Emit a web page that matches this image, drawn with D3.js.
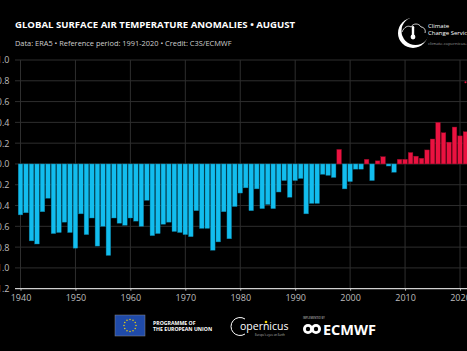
<!DOCTYPE html>
<html>
<head>
<meta charset="utf-8">
<script src="https://cdn.jsdelivr.net/npm/d3@7"></script>
<style>
  html, body { margin: 0; padding: 0; background: #000; }
  svg { display: block; }
</style>
</head>
<body>
<div id="svgOutput"></div>
<script>
// Data

const years = d3.range(1940, 2022);
const anomalies = [
  -0.49, -0.47, -0.74, -0.77, -0.46, -0.33, -0.67, -0.66, -0.56, -0.66,
  -0.81, -0.48, -0.68, -0.52, -0.79, -0.60, -0.88, -0.52, -0.57, -0.59,
  -0.52, -0.55, -0.60, -0.35, -0.69, -0.67, -0.58, -0.56, -0.65, -0.66,
  -0.68, -0.70, -0.45, -0.62, -0.62, -0.83, -0.75, -0.46, -0.72, -0.41,
  -0.28, -0.23, -0.45, -0.24, -0.43, -0.39, -0.43, -0.27, -0.16, -0.32,
  -0.16, -0.14, -0.48, -0.38, -0.38, -0.10, -0.11, -0.13, 0.14, -0.24,
  -0.17, -0.05, -0.05, 0.045, -0.16, 0.03, 0.07, -0.02, -0.08, 0.045,
  0.045, 0.11, 0.075, 0.055, 0.135, 0.24, 0.40, 0.30, 0.21, 0.355,
  0.27, 0.31
];
const markerYears = [2021];
const markerValues = [0.785];
const xTicks = [1940, 1950, 1960, 1970, 1980, 1990, 2000, 2010, 2020];
const yTicks = [-1.2, -1.0, -0.8, -0.6, -0.4, -0.2, 0.0, 0.2, 0.4, 0.6, 0.8, 1.0];

const titleText = "GLOBAL SURFACE AIR TEMPERATURE ANOMALIES \u2022 AUGUST";
const subtitleText = "Data: ERA5 \u2022 Reference period: 1991-2020 \u2022 Credit: C3S/ECMWF";

(function () {
  document.addEventListener('DOMContentLoaded', function () {

    // Config

    const width = 467;
    const height = 351;
    const margin = { "top": 60, "bottom": 62, "left": 15, "right": 0 };
    const blue = "#12bdee";
    const red = "#ea1240";
    const gridColor = "#2e2e2e";
    const font = "'Open Sans', 'Noto Sans', sans-serif";

    const svg = d3.select("#svgOutput")
      .append("svg")
      .attr("width", width)
      .attr("height", height)
      .style("background", "#000");

    // Set up scales

    const xScale = d3.scaleLinear()
      .domain([1940, 2020])
      .range([20.5, 460]);

    const yScale = d3.scaleLinear()
      .domain([-1.2, 1.0])
      .range([height - margin.bottom - 0.3, margin.top]);

    const step = xScale(1941) - xScale(1940);
    const barWidth = step * 0.84;

    // Grid

    svg.append("g")
      .selectAll("line")
      .data(yTicks.filter(d => d > -1.2))
      .join("line")
      .attr("x1", margin.left)
      .attr("x2", width)
      .attr("y1", d => yScale(d))
      .attr("y2", d => yScale(d))
      .attr("stroke", gridColor)
      .attr("stroke-width", 1);

    svg.append("g")
      .selectAll("line")
      .data(xTicks)
      .join("line")
      .attr("x1", d => xScale(d))
      .attr("x2", d => xScale(d))
      .attr("y1", yScale(1.0))
      .attr("y2", yScale(-1.2))
      .attr("stroke", gridColor)
      .attr("stroke-width", 1);

    // Axes

    const xAxis = d3.axisBottom(xScale)
      .tickValues(xTicks)
      .tickFormat(d3.format("d"))
      .tickSize(2)
      .tickPadding(4);

    const gx = svg.append("g")
      .attr("transform", "translate(0, " + yScale(-1.2) + ")")
      .call(xAxis);

    gx.select(".domain").remove();
    gx.selectAll(".tick line").attr("stroke", "#bbb");
    gx.selectAll(".tick text")
      .attr("fill", "#bdbdbd")
      .style("font-family", font)
      .style("font-size", "9px");

    svg.append("line")
      .attr("x1", margin.left)
      .attr("x2", width)
      .attr("y1", yScale(-1.2))
      .attr("y2", yScale(-1.2))
      .attr("stroke", "#cfcfcf")
      .attr("stroke-width", 1.2);

    const yAxis = d3.axisLeft(yScale)
      .tickValues(yTicks)
      .tickFormat(d3.format(".1f"))
      .tickSize(0)
      .tickPadding(0);

    const gy = svg.append("g")
      .attr("transform", "translate(9.5, 0)")
      .call(yAxis);

    gy.select(".domain").remove();
    gy.selectAll(".tick text")
      .attr("fill", "#bdbdbd")
      .style("font-family", font)
      .style("font-size", "9px");

    // Bars

    const data = years.map((y, i) => ({ year: y, value: anomalies[i] }));

    svg.append("g")
      .selectAll("rect")
      .data(data)
      .join("rect")
      .attr("x", d => xScale(d.year) - barWidth / 2)
      .attr("y", d => yScale(Math.max(0, d.value)))
      .attr("width", barWidth)
      .attr("height", d => Math.abs(yScale(d.value) - yScale(0)))
      .attr("fill", d => d.value >= 0 ? red : blue)
      .attr("stroke", d => d.value >= 0 ? "#8a0a26" : "#0a6f8e")
      .attr("stroke-width", 0.4);

    svg.append("g")
      .selectAll("circle")
      .data(markerYears.map((y, i) => ({ year: y, value: markerValues[i] })))
      .join("circle")
      .attr("cx", d => xScale(d.year))
      .attr("cy", d => yScale(d.value))
      .attr("r", 1)
      .attr("fill", red);

    // Titles

    svg.append("text")
      .attr("x", 15)
      .attr("y", 27.5)
      .attr("fill", "#fff")
      .style("font-family", font)
      .style("font-weight", "bold")
      .style("font-size", "9.6px")
      .text(titleText);

    svg.append("text")
      .attr("x", 15)
      .attr("y", 46)
      .attr("fill", "#cfcfcf")
      .style("font-family", font)
      .style("font-size", "7.4px")
      .text(subtitleText);

    // Climate Change Service logo (top right)

    const logo = svg.append("g");
    logo.append("circle").attr("cx", 413).attr("cy", 33).attr("r", 15).attr("fill", "#fff");
    logo.append("circle").attr("cx", 415.5).attr("cy", 31).attr("r", 14).attr("fill", "#000");
    logo.append("path")
      .attr("d", "M402,32 C404,27 408,25 411,27 C413,23 419,23 421,27 C424,27 426,30 425,33")
      .attr("fill", "none")
      .attr("stroke", "#fff")
      .attr("stroke-width", 0.8);
    logo.append("rect").attr("x", 411.8).attr("y", 26).attr("width", 2.4).attr("height", 10).attr("rx", 1.2).attr("fill", "#fff");
    logo.append("circle").attr("cx", 413).attr("cy", 37).attr("r", 2.4).attr("fill", "#fff");
    logo.append("text").attr("x", 428).attr("y", 27.5).attr("fill", "#fff")
      .style("font-family", font).style("font-size", "6px").text("Climate");
    logo.append("text").attr("x", 428).attr("y", 34.5).attr("fill", "#fff")
      .style("font-family", font).style("font-size", "6px").text("Change Service");
    logo.append("text").attr("x", 428).attr("y", 45).attr("fill", "#9a9a9a")
      .style("font-family", font).style("font-size", "4.3px").text("climate.copernicus.eu");

    // Footer logos

    const foot = svg.append("g");

    foot.append("rect").attr("x", 115).attr("y", 315).attr("width", 30).attr("height", 21)
      .attr("fill", "#1f4aa8").attr("stroke", "#888").attr("stroke-width", 0.5);
    d3.range(12).forEach(i => {
      const a = i * Math.PI / 6;
      foot.append("circle")
        .attr("cx", 130 + 6 * Math.cos(a))
        .attr("cy", 325.5 + 6 * Math.sin(a))
        .attr("r", 0.7)
        .attr("fill", "#ffdd00");
    });
    foot.append("text").attr("x", 153).attr("y", 324.5).attr("fill", "#fff")
      .style("font-family", font).style("font-weight", "bold").style("font-size", "5.2px")
      .text("PROGRAMME OF");
    foot.append("text").attr("x", 153).attr("y", 331).attr("fill", "#fff")
      .style("font-family", font).style("font-weight", "bold").style("font-size", "5.2px")
      .text("THE EUROPEAN UNION");

    foot.append("path")
      .attr("d", "M245,319 A9,9 0 1 0 245,334")
      .attr("fill", "none").attr("stroke", "#fff").attr("stroke-width", 1);
    foot.append("text").attr("x", 240).attr("y", 330).attr("fill", "#fff")
      .style("font-family", font).style("font-size", "10.5px").text("opernicus");
    foot.append("circle").attr("cx", 266).attr("cy", 322).attr("r", 1.3).attr("fill", "#f5d000");
    foot.append("text").attr("x", 255).attr("y", 335.5).attr("fill", "#bbb")
      .style("font-family", font).style("font-size", "2.8px").text("Europe's eyes on Earth");

    foot.append("text").attr("x", 303).attr("y", 319).attr("fill", "#ccc")
      .style("font-family", font).style("font-size", "2.6px").text("IMPLEMENTED BY");
    foot.append("circle").attr("cx", 308).attr("cy", 329).attr("r", 5).attr("fill", "#fff");
    foot.append("circle").attr("cx", 316).attr("cy", 329).attr("r", 5).attr("fill", "#fff");
    foot.append("circle").attr("cx", 308).attr("cy", 329).attr("r", 2.2).attr("fill", "#000");
    foot.append("circle").attr("cx", 316).attr("cy", 329).attr("r", 2.2).attr("fill", "#000");
    foot.append("text").attr("x", 323).attr("y", 334.5).attr("fill", "#fff")
      .style("font-family", font).style("font-weight", "bold").style("font-size", "14.5px")
      .text("ECMWF");

  });
})();
</script>
</body>
</html>
